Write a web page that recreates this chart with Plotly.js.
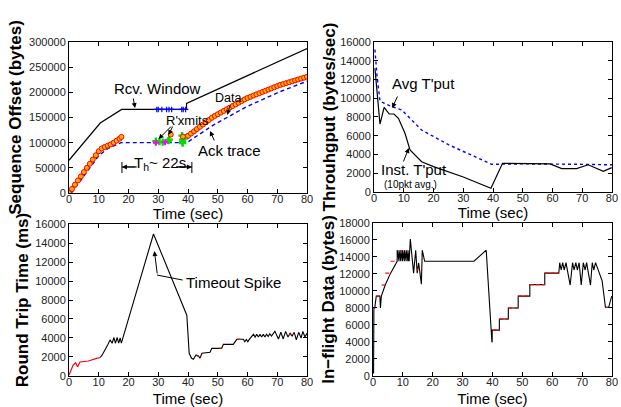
<!DOCTYPE html>
<html><head><meta charset="utf-8">
<script src="https://cdn.plot.ly/plotly-3.0.1.min.js"></script>
<style>body{margin:0;padding:0;background:#fff}#chart{width:621px;height:407px}</style>
</head><body><div id="chart"></div>
<script>
// ---------- Panel 1: Sequence Offset ----------
const rcvT = [0, 10.5, 17.7, 39.5, 39.5, 80];
const rcvV = [65000, 139000, 166000, 166000, 178000, 287000];
const rcvBlueT = [29.5, 30, 31.2, 32.8, 33.6, 34.5, 37.9, 38.4, 39.2];
const rcvBlueV = [166000, 166000, 166000, 166000, 166000, 166000, 166000, 166000, 166000];
const dataT1 = [0, 1, 2, 3, 4, 5, 6, 7, 8, 9, 10, 11, 12, 13, 14, 15, 16, 17, 17.6];
const dataV1 = [0, 8000, 16500, 25000, 33000, 41500, 50000, 58000, 66500, 75000, 83000, 88500, 91500, 94000, 96500, 100000, 104000, 108000, 111500];
const dataT2 = [39.6, 40, 41, 42, 43, 44, 45, 46, 47, 48, 49, 50, 51, 52, 53, 54, 55, 56, 57, 58, 59, 60, 61, 62, 63, 64, 65, 66, 67, 68, 69, 70, 71, 72, 73, 74, 75, 76, 77, 78, 79, 80];
const dataV2 = [112000, 113500, 118000, 122500, 127000, 131500, 136000, 140500, 145000, 149500, 153200, 156500, 159800, 163000, 166300, 169500, 172800, 176000, 179300, 182500, 185800, 188800, 191200, 193600, 196000, 198300, 200700, 203000, 205400, 207800, 210100, 212500, 214700, 216500, 218300, 220100, 221900, 223700, 225500, 227300, 229100, 231000];
const ackT = [0.8, 5, 10, 13, 17.5, 39.6, 48.5, 59.7, 70.9, 80];
const ackV = [0, 34000, 74000, 88000, 100000, 100000, 135000, 171500, 201300, 222000];
const rxGreenT = [29.2, 30.4, 31.5, 33.4, 33.7, 38.0, 38.2, 38.2, 38.2, 38.6];
const rxGreenV = [103000, 102000, 101000, 104000, 106000, 114000, 106000, 102000, 99000, 110000];
const rxMagT = [29.2, 32.3];
const rxMagV = [100000, 101000];
const rxOrT = [34.2, 38.3];
const rxOrV = [116000, 112000];

// ---------- Panel 2: Throughput ----------
const avgT = [0.3, 1, 2, 5.4, 9.3, 12.1, 16, 25, 39.5, 50, 60, 70, 80];
const avgV = [15200, 12400, 9700, 9170, 8750, 7860, 6610, 5050, 2950, 3000, 3000, 2950, 2900];
const instT = [0.3, 2, 3.4, 5.1, 6.7, 8.2, 10.4, 12.1, 16, 20, 30, 39.3, 43.2, 59.2, 63.1, 68.1, 72, 77.1, 79.9];
const instV = [13200, 7250, 9030, 8320, 8320, 7860, 6260, 4480, 3230, 2700, 1600, 390, 3060, 3000, 2500, 2500, 2900, 2200, 2600];

// ---------- Panel 3: RTT ----------
const rttRedT = [0, 1.4, 2.2, 2.9, 3.7, 6.5, 9.3, 10.5];
const rttRedV = [100, 1160, 1400, 980, 1470, 1580, 1860, 1950];
const rttT = [10.5, 11, 13, 13.8, 14.5, 15.1, 15.6, 16.2, 16.7, 17.2, 17.6, 28.4, 39.6, 40.4, 41.2, 41.8, 42.7, 43.5, 44, 44.7, 47.4, 48, 51.3, 51.9, 55.2, 56.4, 58.6, 59.1, 59.6, 60.1, 60.6, 62, 62.55, 63.1, 63.65, 64.2, 64.75, 65.3, 65.85, 66.4, 66.95, 67.5, 68.05, 68.6, 69.2, 70.4, 71.2, 72, 72.8, 73.6, 74.3, 75, 75.7, 76.4, 77.2, 78, 78.6, 79.3, 80];
const rttV = [1950, 2140, 3260, 3800, 3450, 4050, 3450, 4050, 3450, 4000, 3450, 14950, 6400, 2390, 1860, 1760, 2210, 2100, 1860, 2390, 2490, 2910, 2910, 3330, 3330, 3860, 3860, 3600, 3850, 3600, 3850, 4390, 4100, 4400, 4100, 4400, 4100, 4400, 4100, 4400, 4150, 4450, 4200, 4500, 4700, 3900, 4600, 3900, 4700, 4100, 4500, 4200, 4600, 3800, 4600, 4000, 4700, 4100, 4500];
const rttRedBitsT = [43.0, 43.8, null, 50.5, 51.3, null, 56.6, 57.6, null, 74.1, 74.5];
const rttRedBitsV = [2120, 2050, null, 2910, 2910, null, 3860, 3860, null, 4450, 4300];

// ---------- Panel 4: In-flight data ----------
const flT = [0.2, 0.3, 0.6, 1.1, 2.3, 2.5, 2.8, 4.1, 4.1, 5.9, 5.9, 8.1, 8.1, 8.7, 8.7, 9.3, 9.3, 9.9, 9.9, 10.5, 10.5, 11.1, 11.1, 11.7, 11.7, 12.1, 12.5, 13.6, 14.3, 14.8, 15.3, 16.2, 16.5, 17.3, 33.8, 37.9, 39.8, 39.9, 39.9, 42.3, 42.3, 45.3, 45.3, 48.6, 48.6, 52.5, 52.5, 57.5, 57.5, 62.2, 62.5, 63, 63.5, 64.0, 64.6, 66, 66.8, 67.3, 67.9, 68.4, 69, 69.7, 70.4, 71, 71.5, 72, 72.8, 73.4, 73.9, 74.5, 76.7, 77.8, 78.9, 79.9];
const flV = [300, 8000, 8000, 9400, 9400, 8000, 9400, 10700, 10700, 12100, 12100, 13500, 14800, 13500, 14800, 13500, 14800, 13500, 14800, 13500, 14800, 13500, 14800, 13500, 14800, 13500, 16100, 12100, 14800, 12100, 13300, 10800, 14800, 13500, 13500, 14800, 4040, 4040, 5400, 5400, 6700, 6700, 8000, 8000, 9400, 9400, 10750, 10750, 12100, 12100, 13330, 12470, 13330, 12470, 13330, 10700, 13330, 12470, 13330, 12470, 13330, 10700, 13330, 12470, 13330, 12470, 10700, 13330, 12470, 13330, 11200, 8080, 8080, 9400];
const flRedT = [0.3, 0.6, null, 1.1, 2.3, null, 2.9, 4.1, null, 4.1, 5.9, null, 5.9, 8.1, null, 9.3, 9.9, null, 14.8, 15.2, null, 39.8, 40.1, null, 40.1, 42.3, null, 42.3, 45.3, null, 45.3, 48.6, null, 48.6, 52.5, null, 52.5, 57.5, null, 57.5, 62.2, null, 78.0, 79.0];
const flRedV = [8000, 8000, null, 9400, 9400, null, 10700, 10700, null, 12100, 12100, null, 13500, 13500, null, 14750, 14750, null, 12400, 12700, null, 4040, 4040, null, 5400, 5400, null, 6700, 6700, null, 8000, 8000, null, 9400, 9400, null, 10750, 10750, null, 12100, 12100, null, 8080, 8080];

const xTicks = [0, 10, 20, 30, 40, 50, 60, 70, 80];
const xLabel = 'Time (sec)';

const BLACK = '#000000', BLUE = '#0000ff', RED = '#ff0000';
const traces = [
  // panel 1
  {x: rcvT, y: rcvV, xaxis: 'x', yaxis: 'y', mode: 'lines', line: {color: BLACK, width: 1.2}},
  {x: rcvBlueT, y: rcvBlueV, xaxis: 'x', yaxis: 'y', mode: 'lines+markers', line: {color: BLUE, width: 1.2},
   marker: {symbol: 'cross-thin-open', size: 4, color: BLUE, line: {color: BLUE, width: 1.2}}},
  {x: ackT, y: ackV, xaxis: 'x', yaxis: 'y', mode: 'lines', line: {color: BLUE, width: 1.4, dash: '4px,3px'}},
  {x: dataT1, y: dataV1, xaxis: 'x', yaxis: 'y', mode: 'lines+markers', line: {color: RED, width: 2.5},
   marker: {symbol: 'circle', size: 5, color: '#ffb000', line: {color: RED, width: 1}}},
  {x: dataT2, y: dataV2, xaxis: 'x', yaxis: 'y', mode: 'lines+markers', line: {color: RED, width: 2.5},
   marker: {symbol: 'circle', size: 5, color: '#ffb000', line: {color: RED, width: 1}}},
  {x: rxGreenT, y: rxGreenV, xaxis: 'x', yaxis: 'y', mode: 'markers',
   marker: {symbol: 'cross', size: 6, color: '#00dd00', line: {width: 0}}},
  {x: rxMagT, y: rxMagV, xaxis: 'x', yaxis: 'y', mode: 'markers',
   marker: {symbol: 'cross', size: 5, color: '#ff00ff', line: {width: 0}}},
  {x: rxOrT, y: rxOrV, xaxis: 'x', yaxis: 'y', mode: 'markers',
   marker: {symbol: 'circle', size: 5, color: '#ffb000', line: {color: RED, width: 1}}},
  // panel 2
  {x: avgT, y: avgV, xaxis: 'x2', yaxis: 'y2', mode: 'lines', line: {color: BLUE, width: 1.4, dash: 'dot'}},
  {x: instT, y: instV, xaxis: 'x2', yaxis: 'y2', mode: 'lines', line: {color: BLACK, width: 1.2}},
  // panel 3
  {x: rttRedT, y: rttRedV, xaxis: 'x3', yaxis: 'y3', mode: 'lines', line: {color: RED, width: 1.2}},
  {x: rttT, y: rttV, xaxis: 'x3', yaxis: 'y3', mode: 'lines', line: {color: BLACK, width: 1.1}},
  {x: rttRedBitsT, y: rttRedBitsV, xaxis: 'x3', yaxis: 'y3', mode: 'lines', connectgaps: false, line: {color: RED, width: 1.2}},
  // panel 4
  {x: flT, y: flV, xaxis: 'x4', yaxis: 'y4', mode: 'lines', line: {color: BLACK, width: 1.1}},
  {x: flRedT, y: flRedV, xaxis: 'x4', yaxis: 'y4', mode: 'lines', connectgaps: false, line: {color: RED, width: 1.2, dash: '4px,2px'}}
];

const FONT = 'Liberation Sans, Arial, sans-serif';
function xax(domain, anchor, standoff) {
  return {domain: domain, anchor: anchor, range: [0, 80], tickvals: xTicks, ticks: 'inside', ticklen: 4,
    tickcolor: BLACK, showline: true, linecolor: BLACK, linewidth: 1, mirror: 'ticks', showgrid: false, zeroline: false,
    tickfont: {family: FONT, size: 11, color: '#222'}, ticklabelstandoff: -4,
    title: {text: xLabel, font: {family: FONT, size: 15, color: BLACK}, standoff: standoff}};
}
function yax(domain, anchor, range, dtick, title, standoff) {
  return {domain: domain, anchor: anchor, range: range, dtick: dtick, tick0: 0, ticks: 'inside', ticklen: 4,
    tickcolor: BLACK, showline: true, linecolor: BLACK, linewidth: 1, mirror: 'ticks', showgrid: false, zeroline: false,
    tickfont: {family: FONT, size: 11, color: '#222'}, tickformat: 'd',
    title: {text: title, font: {family: FONT, size: 17, color: BLACK, weight: 'bold'}, standoff: standoff}};
}

function txt(xr, yr, x, y, text, size, xanchor) {
  return {xref: xr, yref: yr, x: x, y: y, text: text, showarrow: false, xanchor: xanchor || 'center', yanchor: 'middle',
    font: {family: FONT, size: size, color: BLACK}};
}
function arr(xr, yr, x, y, ax, ay) {
  return {xref: xr, yref: yr, x: x, y: y, ax: ax, ay: ay, text: '', showarrow: true, arrowhead: 2,
    arrowsize: 1, arrowwidth: 1, arrowcolor: BLACK, standoff: 0, startstandoff: 0};
}

const annotations = [
  txt('x', 'y', 29.7, 208600, 'Rcv. Window', 15),
  arr('x', 'y', 22.2, 168900, -2, -11),
  txt('x', 'y', 53.4, 188700, 'Data', 12.5),
  arr('x', 'y', 53.2, 155000, 3, -11),
  txt('x', 'y', 39.7, 145000, 'R\'xmits', 13),
  arr('x', 'y', 30.1, 107300, 14, -14),
  arr('x', 'y', 33.4, 115000, 5, -10),
  txt('x', 'y', 53.8, 85400, 'Ack trace', 15),
  arr('x', 'y', 47.4, 123200, 5, 11),
  txt('x', 'y', 30.6, 58000, 'T<sub>h</sub>~ 22s', 15),
  arr('x', 'y', 17.8, 51700, 15, 0),
  arr('x', 'y', 41.3, 51700, -17, 0),
  // panel 2
  txt('x2', 'y2', 16.6, 11520, 'Avg T\'put', 15),
  arr('x2', 'y2', 6.1, 8960, 6, -13),
  txt('x2', 'y2', 13.3, 2400, 'Inst. T\'put', 15),
  txt('x2', 'y2', 12.3, 750, '(10pkt avg.)', 10),
  arr('x2', 'y2', 11.7, 4690, -6, 15),
  // panel 3
  txt('x3', 'y3', 38.6, 9790, 'Timeout Spike', 15, 'left'),
  arr('x3', 'y3', 28.7, 13160, 3, 24)
];

const shapes = [
  {type: 'line', xref: 'x', yref: 'y', x0: 17.8, x1: 17.8, y0: 39700, y1: 61600, line: {color: BLACK, width: 1}},
  {type: 'line', xref: 'x', yref: 'y', x0: 41.3, x1: 41.3, y0: 39700, y1: 61600, line: {color: BLACK, width: 1}},
  {type: 'line', xref: 'x', yref: 'y', x0: 17.8, x1: 22.8, y0: 51700, y1: 51700, line: {color: BLACK, width: 1}},
  {type: 'line', xref: 'x', yref: 'y', x0: 36.0, x1: 41.3, y0: 51700, y1: 51700, line: {color: BLACK, width: 1}},
  {type: 'line', xref: 'x3', yref: 'y3', x0: 38.2, x1: 29.6, y0: 10100, y1: 10630, line: {color: BLACK, width: 1}}
];

const layout = {
  width: 621, height: 407, margin: {l: 0, r: 0, t: 0, b: 0}, paper_bgcolor: '#fff', plot_bgcolor: '#fff',
  showlegend: false, font: {family: FONT},
  xaxis: xax([0.1111, 0.4944], 'y', 0),
  yaxis: yax([0.5258, 0.8968], 'x', [0, 300000], 50000, 'Sequence Offset (bytes)', 3),
  xaxis2: xax([0.6023, 0.9855], 'y2', 0),
  yaxis2: yax([0.5283, 0.8968], 'x2', [0, 16000], 2000, 'Throuhgput (bytes/sec)', 0),
  xaxis3: xax([0.1111, 0.4944], 'y3', 7),
  yaxis3: yax([0.0762, 0.4496], 'x3', [0, 16000], 2000, 'Round Trip Time (ms)', 2),
  xaxis4: xax([0.6006, 0.9855], 'y4', 7),
  yaxis4: yax([0.0762, 0.4521], 'x4', [0, 18000], 2000, 'In\u2212flight Data (bytes)', 0),
  annotations: annotations, shapes: shapes
};
Plotly.newPlot('chart', traces, layout, {staticPlot: true, displayModeBar: false});
</script></body></html>
